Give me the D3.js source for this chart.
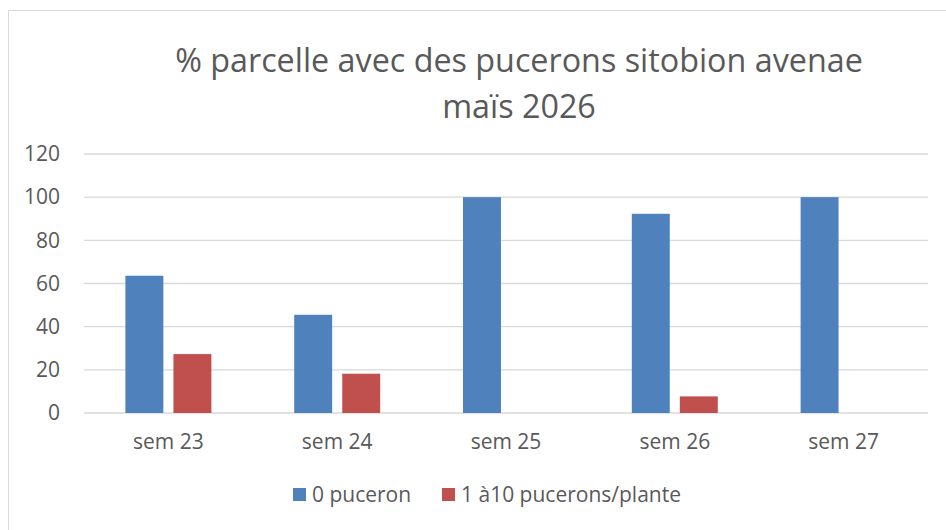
<!DOCTYPE html>
<html>
<head>
<meta charset="utf-8">
<script src="https://cdn.jsdelivr.net/npm/d3@7"></script>
<style>
  body { margin: 0; background: #fff; }
  text { font-family: "Open Sans", sans-serif; fill: #595959; }
</style>
</head>
<body>
<svg id="chart" width="946" height="530"></svg>
<script>
// data
const weeks = ['sem 23', 'sem 24', 'sem 25', 'sem 26', 'sem 27'];
const seriesNames = ['0 puceron', '1 à10 pucerons/plante'];
const zeroAphid = [63.6, 45.5, 100, 92.3, 100];
const oneToTen = [27.3, 18.2, 0, 7.7, 0];
const yTicks = [0, 20, 40, 60, 80, 100, 120];
const titleLines = ['% parcelle avec des pucerons sitobion avenae', 'maïs 2026'];
const colors = ['#4f81bd', '#c0504d'];

const svg = d3.select('#chart');
const margin = {left: 84, right: 18, top: 154, bottom: 117};
const width = 946 - margin.left - margin.right;
const height = 530 - margin.top - margin.bottom;

// outer frame
svg.append('rect')
	.attr('x', 8.5).attr('y', 10.5)
	.attr('width', 960).attr('height', 560)
	.attr('fill', 'none')
	.attr('stroke', '#d9d9d9');

// title
svg.append('g').selectAll('text').data(titleLines).enter()
	.append('text')
	.attr('x', 519)
	.attr('y', (d, i) => 72 + i * 46)
	.attr('text-anchor', 'middle')
	.style('font-size', '32.3px')
	.text(d => d);

const x0 = d3.scaleBand().domain(weeks).range([0, width]);
const x1 = d3.scaleBand().domain(seriesNames).range([x0.bandwidth() / 2 - 43, x0.bandwidth() / 2 + 43]).paddingInner(0.21);
const y = d3.scaleLinear().domain([0, 120]).range([height, 0]);

const g = svg.append('g').attr('transform', `translate(${margin.left},${margin.top})`);

// gridlines
g.append('g').selectAll('line').data(yTicks).enter()
	.append('line')
	.attr('x1', 0).attr('x2', width)
	.attr('y1', d => y(d)).attr('y2', d => y(d))
	.attr('stroke', '#d9d9d9')
	.attr('stroke-width', 1.3);

// y axis labels
const yAxis = g.append('g').call(d3.axisLeft(y).tickValues(yTicks).tickSize(0).tickPadding(24));
yAxis.select('.domain').remove();
yAxis.selectAll('text').style('font-size', '21px').attr('fill', '#595959').attr('font-family', null);

// x axis labels
const xAxis = g.append('g').attr('transform', `translate(0,${height})`)
	.call(d3.axisBottom(x0).tickSize(0).tickPadding(21));
xAxis.select('.domain').remove();
xAxis.selectAll('text').style('font-size', '21px').attr('fill', '#595959').attr('font-family', null);

// bars
const series = [zeroAphid, oneToTen];
series.forEach(function(vals, s) {
	g.append('g').selectAll('rect').data(vals).enter()
		.append('rect')
		.attr('x', (d, i) => x0(weeks[i]) + x1(seriesNames[s]))
		.attr('y', d => y(d))
		.attr('width', x1.bandwidth())
		.attr('height', d => height - y(d))
		.attr('fill', colors[s]);
});

// legend
const legendX = [293, 442];
const legend = svg.append('g').selectAll('g').data(seriesNames).enter()
	.append('g')
	.attr('transform', (d, i) => `translate(${legendX[i]},488)`);
legend.append('rect').attr('width', 13).attr('height', 13).attr('fill', (d, i) => colors[i]);
legend.append('text')
	.attr('x', 19).attr('y', 14)
	.style('font-size', '21px')
	.text(d => d);
</script>
</body>
</html>
